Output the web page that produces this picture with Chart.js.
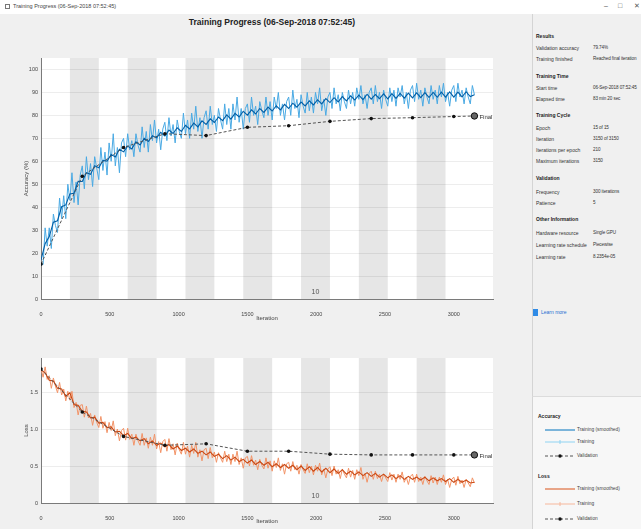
<!DOCTYPE html>
<html>
<head>
<meta charset="utf-8">
<script src="https://cdn.jsdelivr.net/npm/chart.js@4.4.1/dist/chart.umd.min.js"></script>
<style>
  body { margin: 0; width: 641px; height: 529px; overflow: hidden; background: #f0f0f0;
         font-family: "Liberation Sans", Arial, sans-serif; position: relative; }
  .titlebar { position: absolute; left: 0; top: 0; width: 641px; height: 14px; background: #fff; }
  .titlebar .t { position: absolute; left: 13px; top: 3px; font-size: 5.5px; color: #444; }
  .titlebar .ic { position: absolute; left: 5px; top: 4px; width: 5px; height: 5px; border: 1px solid #777; box-sizing: border-box; }
  .titlebar .c { position: absolute; top: 2px; font-size: 7px; color: #555; }
  .maintitle { position: absolute; left: 6px; width: 532px; top: 17px; text-align: center; font-weight: bold; font-size: 8.5px; color: #222; }
  .panel { position: absolute; left: 532px; top: 14px; width: 109px; height: 515px; border-left: 1px solid #d4d4d4; }
  .row { position: absolute; left: 3px; font-size: 5px; color: #333; white-space: nowrap; }
  .row .v { position: absolute; left: 57px; font-size: 4.6px; letter-spacing: -0.1px; }
  .hd { position: absolute; left: 3px; font-size: 5px; font-weight: bold; color: #222; }
  .learn { position: absolute; left: 0px; top: 295px; font-size: 5px; color: #1f6fd0; }
  .learn i { display: inline-block; width: 5px; height: 7px; background: #2f8be6; vertical-align: middle; margin-right: 3px; }
  .legend { position: absolute; left: 532px; top: 396px; width: 109px; height: 133px; background: #f7f7f7; border-top: 1px solid #dcdcdc; border-left: 1px solid #d4d4d4; }
  .legend .lh { position: absolute; left: 5px; font-size: 5px; font-weight: bold; color: #222; }
  .legend .li { position: absolute; left: 12px; font-size: 4.8px; color: #444; white-space: nowrap; }
  .legend svg { vertical-align: middle; margin-right: 2px; }
  canvas { position: absolute; }
</style>
</head>
<body>
<div class="titlebar">
  <div class="ic"></div>
  <div class="t">Training Progress (06-Sep-2018 07:52:45)</div>
  <div class="c" style="left:604px">&ndash;</div>
  <div class="c" style="left:618px">&#9633;</div>
  <div class="c" style="left:634px">&#10005;</div>
</div>
<div class="maintitle">Training Progress (06-Sep-2018 07:52:45)</div>

<canvas id="accChart" width="502" height="280" style="left:18px;top:50px"></canvas>
<canvas id="lossChart" width="502" height="179" style="left:18px;top:350px"></canvas>

<div class="panel">
  <div class="hd" style="top:19px">Results</div>
  <div class="row" style="top:31px">Validation accuracy<span class="v">79.74%</span></div>
  <div class="row" style="top:42px">Training finished<span class="v">Reached final iteration</span></div>
  <div class="hd" style="top:59px">Training Time</div>
  <div class="row" style="top:71px">Start time<span class="v">06-Sep-2018 07:52:45</span></div>
  <div class="row" style="top:82px">Elapsed time<span class="v">83 min 20 sec</span></div>
  <div class="hd" style="top:98px">Training Cycle</div>
  <div class="row" style="top:111px">Epoch<span class="v">15 of 15</span></div>
  <div class="row" style="top:122px">Iteration<span class="v">3150 of 3150</span></div>
  <div class="row" style="top:133px">Iterations per epoch<span class="v">210</span></div>
  <div class="row" style="top:144px">Maximum iterations<span class="v">3150</span></div>
  <div class="hd" style="top:161px">Validation</div>
  <div class="row" style="top:175px">Frequency<span class="v">300 iterations</span></div>
  <div class="row" style="top:186px">Patience<span class="v">5</span></div>
  <div class="hd" style="top:202px">Other Information</div>
  <div class="row" style="top:216px">Hardware resource<span class="v">Single GPU</span></div>
  <div class="row" style="top:228px">Learning rate schedule<span class="v">Piecewise</span></div>
  <div class="row" style="top:240px">Learning rate<span class="v">8.2354e-05</span></div>
  <div class="learn"><i></i>Learn more</div>
</div>

<div class="legend">
  <div class="lh" style="top:16px">Accuracy</div>
  <div class="li" style="top:30px"><svg width="30" height="4"><line x1="0" y1="2" x2="30" y2="2" stroke="#0072bd" stroke-width="1"/></svg>Training (smoothed)</div>
  <div class="li" style="top:42px"><svg width="30" height="4"><line x1="0" y1="2" x2="30" y2="2" stroke="#8fd3f2" stroke-width="1"/><line x1="15" y1="0" x2="15" y2="4" stroke="#8fd3f2"/></svg>Training</div>
  <div class="li" style="top:56px"><svg width="30" height="4"><line x1="0" y1="2" x2="30" y2="2" stroke="#555" stroke-width="1" stroke-dasharray="3,2"/><circle cx="15" cy="2" r="1.8" fill="#111"/></svg>Validation</div>
  <div class="lh" style="top:76px">Loss</div>
  <div class="li" style="top:89px"><svg width="30" height="4"><line x1="0" y1="2" x2="30" y2="2" stroke="#d95319" stroke-width="1"/></svg>Training (smoothed)</div>
  <div class="li" style="top:104px"><svg width="30" height="4"><line x1="0" y1="2" x2="30" y2="2" stroke="#f6b79b" stroke-width="1"/><line x1="15" y1="0" x2="15" y2="4" stroke="#f6b79b"/></svg>Training</div>
  <div class="li" style="top:119px"><svg width="30" height="4"><line x1="0" y1="2" x2="30" y2="2" stroke="#555" stroke-width="1" stroke-dasharray="3,2"/><circle cx="15" cy="2" r="1.8" fill="#111"/></svg>Validation</div>
</div>

<script>
// smoothed curves, every 30 iterations
const iters = [
  0, 30, 60, 90, 120, 150, 180, 210, 240, 270,
  300, 330, 360, 390, 420, 450, 480, 510, 540, 570,
  600, 630, 660, 690, 720, 750, 780, 810, 840, 870,
  900, 930, 960, 990, 1020, 1050, 1080, 1110, 1140, 1170,
  1200, 1230, 1260, 1290, 1320, 1350, 1380, 1410, 1440, 1470,
  1500, 1530, 1560, 1590, 1620, 1650, 1680, 1710, 1740, 1770,
  1800, 1830, 1860, 1890, 1920, 1950, 1980, 2010, 2040, 2070,
  2100, 2130, 2160, 2190, 2220, 2250, 2280, 2310, 2340, 2370,
  2400, 2430, 2460, 2490, 2520, 2550, 2580, 2610, 2640, 2670,
  2700, 2730, 2760, 2790, 2820, 2850, 2880, 2910, 2940, 2970,
  3000, 3030, 3060, 3090, 3120, 3150
];

const accSmooth = [
  17.0, 24.1, 27.2, 33.5, 34.1, 40.2, 41.0, 45.8, 46.1, 51.3,
  51.2, 55.0, 54.3, 58.1, 57.2, 60.4, 60.1, 63.0, 61.9, 65.2,
  64.1, 66.6, 65.4, 68.5, 67.1, 70.0, 68.6, 71.1, 70.2, 72.6,
  71.0, 73.6, 72.1, 74.6, 73.0, 75.7, 74.1, 76.6, 75.0, 77.6,
  76.1, 78.5, 76.9, 79.3, 77.7, 80.2, 78.4, 80.9, 79.3, 81.8,
  80.1, 82.4, 80.6, 83.0, 81.3, 83.6, 81.9, 84.2, 82.4, 84.8,
  83.0, 85.3, 83.6, 85.8, 84.1, 86.3, 84.6, 86.8, 85.0, 87.3,
  85.6, 87.7, 85.9, 88.2, 86.3, 88.5, 86.7, 88.8, 86.9, 89.2,
  87.1, 89.1, 87.3, 89.4, 87.2, 89.5, 87.4, 89.6, 87.5, 89.7,
  87.6, 89.8, 87.7, 89.9, 87.8, 90.0, 87.9, 90.1, 88.0, 90.2,
  88.0, 90.1, 88.1, 90.3, 88.2, 89.0
];

const lossSmooth = [
  1.80, 1.76, 1.66, 1.65, 1.55, 1.54, 1.44, 1.49, 1.33, 1.32,
  1.24, 1.23, 1.15, 1.16, 1.08, 1.09, 1.02, 1.03, 0.96, 0.97,
  0.91, 0.94, 0.87, 0.89, 0.84, 0.87, 0.80, 0.84, 0.78, 0.81,
  0.76, 0.79, 0.73, 0.77, 0.71, 0.74, 0.69, 0.73, 0.67, 0.70,
  0.65, 0.69, 0.63, 0.66, 0.60, 0.64, 0.58, 0.62, 0.56, 0.59,
  0.54, 0.58, 0.52, 0.56, 0.51, 0.55, 0.49, 0.53, 0.48, 0.52,
  0.47, 0.51, 0.45, 0.50, 0.44, 0.49, 0.43, 0.48, 0.42, 0.47,
  0.41, 0.46, 0.40, 0.45, 0.39, 0.43, 0.38, 0.42, 0.37, 0.41,
  0.36, 0.40, 0.35, 0.39, 0.34, 0.38, 0.33, 0.37, 0.32, 0.36,
  0.32, 0.35, 0.31, 0.35, 0.30, 0.34, 0.30, 0.33, 0.29, 0.33,
  0.28, 0.32, 0.28, 0.31, 0.27, 0.28
];

// raw per-iteration values, every 15 iterations
const rawIters = [
  0, 15, 30, 45, 60, 75, 90, 105, 120, 135,
  150, 165, 180, 195, 210, 225, 240, 255, 270, 285,
  300, 315, 330, 345, 360, 375, 390, 405, 420, 435,
  450, 465, 480, 495, 510, 525, 540, 555, 570, 585,
  600, 615, 630, 645, 660, 675, 690, 705, 720, 735,
  750, 765, 780, 795, 810, 825, 840, 855, 870, 885,
  900, 915, 930, 945, 960, 975, 990, 1005, 1020, 1035,
  1050, 1065, 1080, 1095, 1110, 1125, 1140, 1155, 1170, 1185,
  1200, 1215, 1230, 1245, 1260, 1275, 1290, 1305, 1320, 1335,
  1350, 1365, 1380, 1395, 1410, 1425, 1440, 1455, 1470, 1485,
  1500, 1515, 1530, 1545, 1560, 1575, 1590, 1605, 1620, 1635,
  1650, 1665, 1680, 1695, 1710, 1725, 1740, 1755, 1770, 1785,
  1800, 1815, 1830, 1845, 1860, 1875, 1890, 1905, 1920, 1935,
  1950, 1965, 1980, 1995, 2010, 2025, 2040, 2055, 2070, 2085,
  2100, 2115, 2130, 2145, 2160, 2175, 2190, 2205, 2220, 2235,
  2250, 2265, 2280, 2295, 2310, 2325, 2340, 2355, 2370, 2385,
  2400, 2415, 2430, 2445, 2460, 2475, 2490, 2505, 2520, 2535,
  2550, 2565, 2580, 2595, 2610, 2625, 2640, 2655, 2670, 2685,
  2700, 2715, 2730, 2745, 2760, 2775, 2790, 2805, 2820, 2835,
  2850, 2865, 2880, 2895, 2910, 2925, 2940, 2955, 2970, 2985,
  3000, 3015, 3030, 3045, 3060, 3075, 3090, 3105, 3120, 3135,
  3150
];

const accRaw = [
  15, 15, 31, 23, 31, 22, 37, 32, 29, 44,
  35, 45, 35, 50, 43, 55, 42, 51, 41, 54,
  58, 48, 62, 52, 59, 49, 62, 57, 52, 66,
  56, 64, 54, 68, 60, 72, 58, 66, 55, 68,
  70, 62, 72, 65, 69, 62, 72, 67, 64, 75,
  66, 73, 64, 76, 69, 78, 68, 74, 65, 74,
  77, 69, 79, 71, 76, 68, 78, 73, 70, 81,
  72, 78, 70, 81, 74, 84, 73, 79, 70, 79,
  82, 74, 84, 76, 80, 73, 83, 78, 74, 85,
  76, 83, 74, 85, 78, 88, 77, 83, 74, 83,
  85, 77, 88, 80, 84, 76, 86, 82, 79, 88,
  80, 86, 78, 88, 83, 90, 80, 85, 78, 86,
  88, 80, 91, 83, 87, 79, 89, 84, 81, 90,
  82, 88, 81, 90, 85, 92, 82, 87, 80, 88,
  90, 83, 92, 85, 89, 82, 90, 86, 83, 91,
  85, 90, 84, 92, 87, 93, 85, 89, 83, 90,
  92, 85, 93, 86, 90, 83, 91, 87, 84, 92,
  86, 91, 84, 92, 88, 93, 85, 90, 83, 91,
  93, 86, 94, 87, 91, 84, 92, 88, 85, 93,
  87, 91, 85, 93, 88, 94, 86, 90, 84, 91,
  93, 86, 94, 88, 91, 85, 92, 88, 85, 93,
  89
];

const lossRaw = [
  1.82, 1.70, 1.84, 1.67, 1.72, 1.55, 1.69, 1.58, 1.49, 1.63,
  1.46, 1.54, 1.38, 1.51, 1.39, 1.51, 1.29, 1.36, 1.19, 1.32,
  1.33, 1.16, 1.31, 1.15, 1.21, 1.05, 1.19, 1.09, 1.02, 1.17,
  1.01, 1.10, 0.95, 1.09, 0.98, 1.11, 0.91, 1.00, 0.84, 0.98,
  1.01, 0.85, 1.01, 0.86, 0.93, 0.78, 0.93, 0.84, 0.78, 0.94,
  0.78, 0.88, 0.74, 0.89, 0.78, 0.93, 0.73, 0.83, 0.68, 0.83,
  0.86, 0.70, 0.87, 0.72, 0.80, 0.65, 0.81, 0.72, 0.66, 0.82,
  0.66, 0.77, 0.62, 0.78, 0.67, 0.82, 0.62, 0.72, 0.57, 0.72,
  0.74, 0.60, 0.75, 0.61, 0.69, 0.55, 0.68, 0.61, 0.55, 0.70,
  0.56, 0.66, 0.52, 0.66, 0.56, 0.70, 0.52, 0.61, 0.47, 0.61,
  0.63, 0.50, 0.64, 0.51, 0.58, 0.45, 0.59, 0.51, 0.46, 0.61,
  0.47, 0.57, 0.43, 0.57, 0.48, 0.61, 0.44, 0.53, 0.39, 0.53,
  0.55, 0.43, 0.56, 0.45, 0.51, 0.39, 0.52, 0.45, 0.40, 0.53,
  0.41, 0.50, 0.38, 0.51, 0.43, 0.54, 0.38, 0.46, 0.34, 0.46,
  0.49, 0.37, 0.50, 0.39, 0.45, 0.33, 0.46, 0.39, 0.34, 0.47,
  0.35, 0.44, 0.32, 0.45, 0.37, 0.48, 0.32, 0.40, 0.28, 0.40,
  0.43, 0.32, 0.43, 0.33, 0.39, 0.29, 0.39, 0.34, 0.29, 0.41,
  0.31, 0.39, 0.28, 0.39, 0.32, 0.42, 0.28, 0.35, 0.25, 0.36,
  0.39, 0.28, 0.39, 0.29, 0.35, 0.25, 0.36, 0.30, 0.25, 0.37,
  0.27, 0.35, 0.25, 0.35, 0.28, 0.38, 0.25, 0.32, 0.21, 0.32,
  0.35, 0.24, 0.36, 0.26, 0.31, 0.21, 0.32, 0.27, 0.22, 0.34,
  0.27
];

// validation every 300 iterations, plus the final one
const valIter = [0, 300, 600, 900, 1200, 1500, 1800, 2100, 2400, 2700, 3000, 3150];
const valAcc  = [15.2, 53.5, 66.0, 72.0, 71.2, 74.8, 75.5, 77.4, 78.6, 79.0, 79.5, 79.74];
const valLoss = [1.81, 1.23, 0.90, 0.78, 0.80, 0.70, 0.70, 0.66, 0.65, 0.65, 0.65, 0.65];

const epochStarts = [0, 210, 420, 630, 840, 1050, 1260, 1470, 1680, 1890, 2100, 2310, 2520, 2730, 2940];
const epochLen = 210;
const shownEpoch = 10;

const xTicks = [0, 500, 1000, 1500, 2000, 2500, 3000];
const accTicks = [0, 10, 20, 30, 40, 50, 60, 70, 80, 90, 100];
const lossTicks = [0, 0.5, 1, 1.5];

const FONT = "'Liberation Sans', Arial, sans-serif";

function pts(xs, ys) {
  return xs.map(function (x, i) { return { x: x, y: ys[i] }; });
}

// white plot area with grey bands on alternate epochs, plus the epoch number and "Final" label
const epochBands = {
  id: "epochBands",
  beforeDraw: function (chart) {
    const a = chart.chartArea, x = chart.scales.x, c = chart.ctx;
    c.save();
    c.fillStyle = "#ffffff";
    c.fillRect(a.left, a.top, a.right - a.left, a.bottom - a.top);
    c.fillStyle = "#e6e6e6";
    epochStarts.forEach(function (s, i) {
      if (i % 2 === 1) {
        const x0 = x.getPixelForValue(s), x1 = x.getPixelForValue(s + epochLen);
        c.fillRect(x0, a.top, x1 - x0, a.bottom - a.top);
      }
    });
    c.restore();
  },
  afterDatasetsDraw: function (chart) {
    const a = chart.chartArea, x = chart.scales.x, y = chart.scales.y, c = chart.ctx;
    const vals = chart.options.plugins.epochBands.values;
    c.save();
    c.font = "7px " + FONT;
    c.fillStyle = "#555";
    c.textAlign = "center";
    c.textBaseline = "bottom";
    c.fillText(String(shownEpoch), x.getPixelForValue(epochStarts[shownEpoch - 1] + epochLen / 2), a.bottom - 3);
    c.font = "6px " + FONT;
    c.fillStyle = "#333";
    c.textAlign = "left";
    c.textBaseline = "middle";
    const n = valIter.length - 1;
    c.fillText("Final", x.getPixelForValue(valIter[n]) + 5, y.getPixelForValue(vals[n]) + 1);
    c.restore();
  }
};

function makeChart(id, raw, smooth, val, rawColor, smoothColor, yTitle, yMax, yTicks, xHeight, xPad) {
  const n = valIter.length - 1;
  return new Chart(document.getElementById(id).getContext("2d"), {
    type: "line",
    data: {
      datasets: [
        {
          data: [{ x: valIter[n], y: val[n] }],
          showLine: false,
          pointRadius: 3.2,
          pointBackgroundColor: "#666",
          pointBorderColor: "#111",
          pointBorderWidth: 1,
          order: 0,
        },
        {
          data: pts(valIter, val),
          borderColor: "#555",
          borderWidth: 1,
          borderDash: [3, 2],
          pointRadius: 1.8,
          pointBackgroundColor: "#111",
          pointBorderWidth: 0,
          order: 1,
        },
        {
          data: pts(iters, smooth),
          borderColor: smoothColor,
          borderWidth: 1.1,
          pointRadius: 0,
          order: 2,
        },
        {
          data: pts(rawIters, raw),
          borderColor: rawColor,
          borderWidth: 1,
          pointRadius: 0,
          order: 3,
        },
      ],
    },
    options: {
      responsive: false,
      animation: false,
      devicePixelRatio: 1,
      layout: { padding: { top: 8, right: 27, left: 0, bottom: 0 } },
      plugins: {
        legend: { display: false },
        tooltip: { enabled: false },
        epochBands: { values: val },
      },
      scales: {
        x: {
          type: "linear",
          min: 0,
          max: 3285,
          afterFit: function (s) { s.height = xHeight; },
          afterBuildTicks: function (s) { s.ticks = xTicks.map(function (v) { return { value: v }; }); },
          grid: { display: false },
          border: { display: true, color: "#7a7a7a", width: 1 },
          ticks: {
            font: { size: 5.5, family: FONT }, color: "#444", padding: 4, maxRotation: 0,
            callback: function (v) { return String(v); }
          },
          title: { display: true, text: "Iteration", font: { size: 6, family: FONT }, color: "#444", padding: { top: 0, bottom: xPad } },
        },
        y: {
          min: 0,
          max: yMax,
          afterFit: function (s) { s.width = 23; },
          afterBuildTicks: function (s) { s.ticks = yTicks.map(function (v) { return { value: v }; }); },
          grid: { color: "rgba(0,0,0,0.07)", drawTicks: false },
          border: { display: true, color: "#7a7a7a", width: 1 },
          ticks: { font: { size: 5.5, family: FONT }, color: "#444", padding: 3 },
          title: { display: true, text: yTitle, font: { size: 6, family: FONT }, color: "#444", padding: { top: 5, bottom: 0 } },
        },
      },
    },
    plugins: [epochBands],
  });
}

makeChart("accChart", accRaw, accSmooth, valAcc, "#4aaae4", "#005ea6", "Accuracy (%)", 105, accTicks, 31, 8);
makeChart("lossChart", lossRaw, lossSmooth, valLoss, "#f39468", "#c94712", "Loss", 1.96, lossTicks, 26, 4);
</script>
</body>
</html>
